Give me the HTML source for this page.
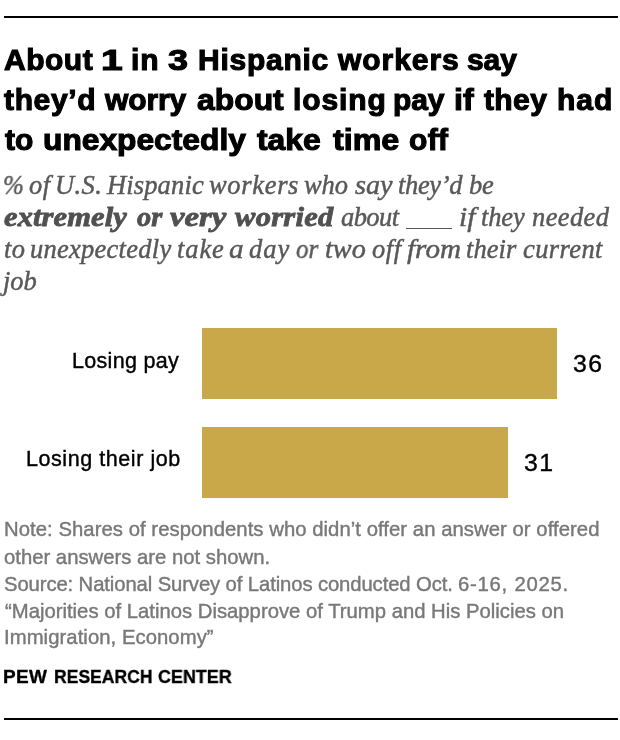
<!DOCTYPE html>
<html>
<head>
<meta charset="utf-8">
<title>About 1 in 3 Hispanic workers say they’d worry about losing pay</title>
<style>
html,body{margin:0;padding:0;background:#fff;}
body{width:620px;height:740px;position:relative;overflow:hidden;font-family:"Liberation Sans",sans-serif;}
.l{will-change:transform;filter:grayscale(1);position:absolute;white-space:nowrap;transform-origin:0 0;line-height:1;}
.rule{position:absolute;left:4px;width:614px;height:2px;background:#000;}
.tl{position:absolute;left:0;width:620px;height:40px;}
.w{position:absolute;top:0;white-space:nowrap;line-height:1;transform-origin:0 0;font-weight:bold;font-size:30px;color:#000;-webkit-text-stroke:1.1px #000;will-change:transform;filter:grayscale(1);}
.s{font-family:"Liberation Serif",serif;font-style:italic;font-size:26.5px;color:#585858;left:4px;-webkit-text-stroke:0.45px #585858;transform:scaleY(1.04);transform-origin:0 22.2px;}
.sb{font-weight:bold;color:#505050;font-size:27px;}
.sl{position:absolute;left:0;width:620px;height:32px;}
.sw{position:absolute;top:0;white-space:nowrap;line-height:1;transform-origin:0 22.2px;font-family:"Liberation Serif",serif;font-style:italic;font-size:26.5px;color:#585858;-webkit-text-stroke:0.45px #585858;will-change:transform;filter:grayscale(1);}
.sw.sb{font-weight:bold;font-size:27px;color:#505050;-webkit-text-stroke:0.8px #505050;top:-0.5px;}
.blank{position:absolute;background:#585858;left:405.5px;top:227.5px;width:46.5px;height:1.8px;}
.bar{position:absolute;background:#c8a849;left:202px;height:71px;}
.lab{font-size:21.5px;color:#000;-webkit-text-stroke:0.4px #000;}
.val{font-size:23.2px;color:#000;-webkit-text-stroke:0.4px #000;letter-spacing:1.3px;transform:scaleX(1.07);}
.n{font-size:20.3px;color:#787878;left:4.2px;-webkit-text-stroke:0.4px #787878;}
.pw{position:absolute;top:0;white-space:nowrap;line-height:1;transform-origin:0 0;font-weight:bold;font-size:19px;color:#000;-webkit-text-stroke:0.35px #000;will-change:transform;filter:grayscale(1);}
</style>
</head>
<body>
<div class="rule" style="top:16px"></div>

<div class="tl" id="t1" style="top:44.50px"><span class="w" style="left:3.66px;letter-spacing:0.498px;">About</span> <span class="w" style="left:101.15px;transform:scale(1.301,1.0)">1</span> <span class="w" style="left:130.97px;letter-spacing:0.812px;">in</span> <span class="w" style="left:167.89px;transform:scale(1.199,1.0)">3</span> <span class="w" style="left:197.54px;letter-spacing:0.745px;">Hispanic</span> <span class="w" style="left:337.55px;letter-spacing:0.946px;">workers</span> <span class="w" style="left:467.01px;letter-spacing:-0.081px;">say</span></div>
<div class="tl" id="t2" style="top:84.50px"><span class="w" style="left:4.49px;letter-spacing:0.637px;">they’d</span> <span class="w" style="left:105.45px;letter-spacing:-0.127px;">worry</span> <span class="w" style="left:196.57px;transform:scale(1.062,1.0)">about</span> <span class="w" style="left:292.67px;letter-spacing:0.879px;">losing</span> <span class="w" style="left:392.97px;letter-spacing:-0.117px;">pay</span> <span class="w" style="left:453.86px;transform:scale(1.071,1.0)">if</span> <span class="w" style="left:483.99px;letter-spacing:0.382px;">they</span> <span class="w" style="left:557.37px;letter-spacing:0.956px;">had</span></div>
<div class="tl" id="t3" style="top:124.50px"><span class="w" style="left:4.79px;letter-spacing:0.011px;">to</span> <span class="w" style="left:43.03px;transform:scale(1.058,1.0)">unexpectedly</span> <span class="w" style="left:257.31px;transform:scale(1.062,1.0)">take</span> <span class="w" style="left:332.81px;transform:scale(1.074,1.0)">time</span> <span class="w" style="left:409.10px;letter-spacing:0.355px;">off</span></div>

<div class="sl" id="s1" style="top:172.3px"><span class="sw" style="left:3.43px;transform:scale(0.940,1.04)">%</span> <span class="sw" style="left:29.22px;letter-spacing:0.400px;transform:scale(1.000,1.04)">of</span> <span class="sw" style="left:54.73px;letter-spacing:0.388px;transform:scale(1.000,1.04)">U.S.</span> <span class="sw" style="left:106.78px;letter-spacing:0.138px;transform:scale(1.000,1.04)">Hispanic</span> <span class="sw" style="left:209.45px;letter-spacing:0.675px;transform:scale(1.000,1.04)">workers</span> <span class="sw" style="left:303.55px;letter-spacing:-0.064px;transform:scale(1.000,1.04)">who</span> <span class="sw" style="left:354.73px;transform:scale(1.064,1.04)">say</span> <span class="sw" style="left:398.40px;letter-spacing:-0.337px;transform:scale(1.000,1.04)">they’d</span> <span class="sw" style="left:469.34px;letter-spacing:-0.149px;transform:scale(1.000,1.04)">be</span></div>
<div class="sl" id="s2" style="top:204px"><span class="sw sb" style="left:4.09px;letter-spacing:0.084px;transform:scale(1.130,1.04)">extremely</span> <span class="sw sb" style="left:136.94px;transform:scale(1.050,1.04)">or</span> <span class="sw sb" style="left:169.80px;transform:scale(1.214,1.04)">very</span> <span class="sw sb" style="left:235.13px;letter-spacing:0.250px;transform:scale(1.130,1.04)">worried</span> <span class="sw" style="left:341.21px;letter-spacing:-0.563px;transform:scale(1.000,1.04)">about</span> <span class="sw" style="left:458.62px;transform:scale(1.113,1.04)">if</span> <span class="sw" style="left:481.20px;letter-spacing:-0.131px;transform:scale(1.000,1.04)">they</span> <span class="sw" style="left:531.55px;letter-spacing:0.377px;transform:scale(1.000,1.04)">needed</span></div>
<div class="blank" id="s2c"></div>
<div class="sl" id="s3" style="top:236px"><span class="sw" style="left:4.20px;letter-spacing:0.404px;transform:scale(1.000,1.04)">to</span> <span class="sw" style="left:30.35px;letter-spacing:0.261px;transform:scale(1.000,1.04)">unexpectedly</span> <span class="sw" style="left:176.60px;letter-spacing:0.897px;transform:scale(1.000,1.04)">take</span> <span class="sw" style="left:228.95px;transform:scale(1.102,1.04)">a</span> <span class="sw" style="left:249.01px;letter-spacing:0.951px;transform:scale(1.000,1.04)">day</span> <span class="sw" style="left:295.61px;transform:scale(0.943,1.04)">or</span> <span class="sw" style="left:324.90px;transform:scale(1.064,1.04)">two</span> <span class="sw" style="left:372.22px;letter-spacing:0.523px;transform:scale(1.000,1.04)">off</span> <span class="sw" style="left:406.60px;transform:scale(1.101,1.04)">from</span> <span class="sw" style="left:465.80px;letter-spacing:0.062px;transform:scale(1.000,1.04)">their</span> <span class="sw" style="left:522.72px;letter-spacing:0.406px;transform:scale(1.000,1.04)">current</span></div>
<div class="l s" id="s4" style="top:267.6px;left:3px">job</div>

<div class="bar" style="top:328px;width:355px"></div>
<div class="bar" style="top:427px;width:306px"></div>

<div class="l lab" id="lab1" style="left:72.1px;top:351px;letter-spacing:0.3px">Losing pay</div>
<div class="l lab" id="lab2" style="left:25.8px;top:449px;letter-spacing:0.56px">Losing their job</div>
<div class="l val" id="v1" style="left:572.5px;top:353px">36</div>
<div class="l val" id="v2" style="left:523.5px;top:452px">31</div>

<div class="l n" id="n1" style="top:519px;left:3.79px;letter-spacing:0.049px">Note: Shares of respondents who didn’t offer an answer or offered</div>
<div class="l n" id="n2" style="top:546.5px">other answers are not shown.</div>
<div class="l n" id="n3" style="top:574.4px;left:4.25px;letter-spacing:-0.114px">Source: National Survey of Latinos conducted Oct.</div>
<div class="l n" id="n3b" style="top:574.4px;left:457.54px;letter-spacing:0.755px">6-16, 2025.</div>
<div class="l n" id="n4" style="top:600.7px;left:4.58px">“Majorities of Latinos Disapprove of Trump and His Policies on</div>
<div class="l n" id="n5" style="top:627.3px;left:3.6px;letter-spacing:0.055px">Immigration, Economy”</div>

<div class="tl" id="pew" style="top:667.3px"><span class="pw" style="left:3.42px;letter-spacing:0.342px;">PEW</span> <span class="pw" style="left:54.24px;transform:scale(0.923,1.0)">RESEARCH</span> <span class="pw" style="left:157.92px;transform:scale(0.943,1.0)">CENTER</span></div>

<div class="rule" style="top:718px"></div>
</body>
</html>
